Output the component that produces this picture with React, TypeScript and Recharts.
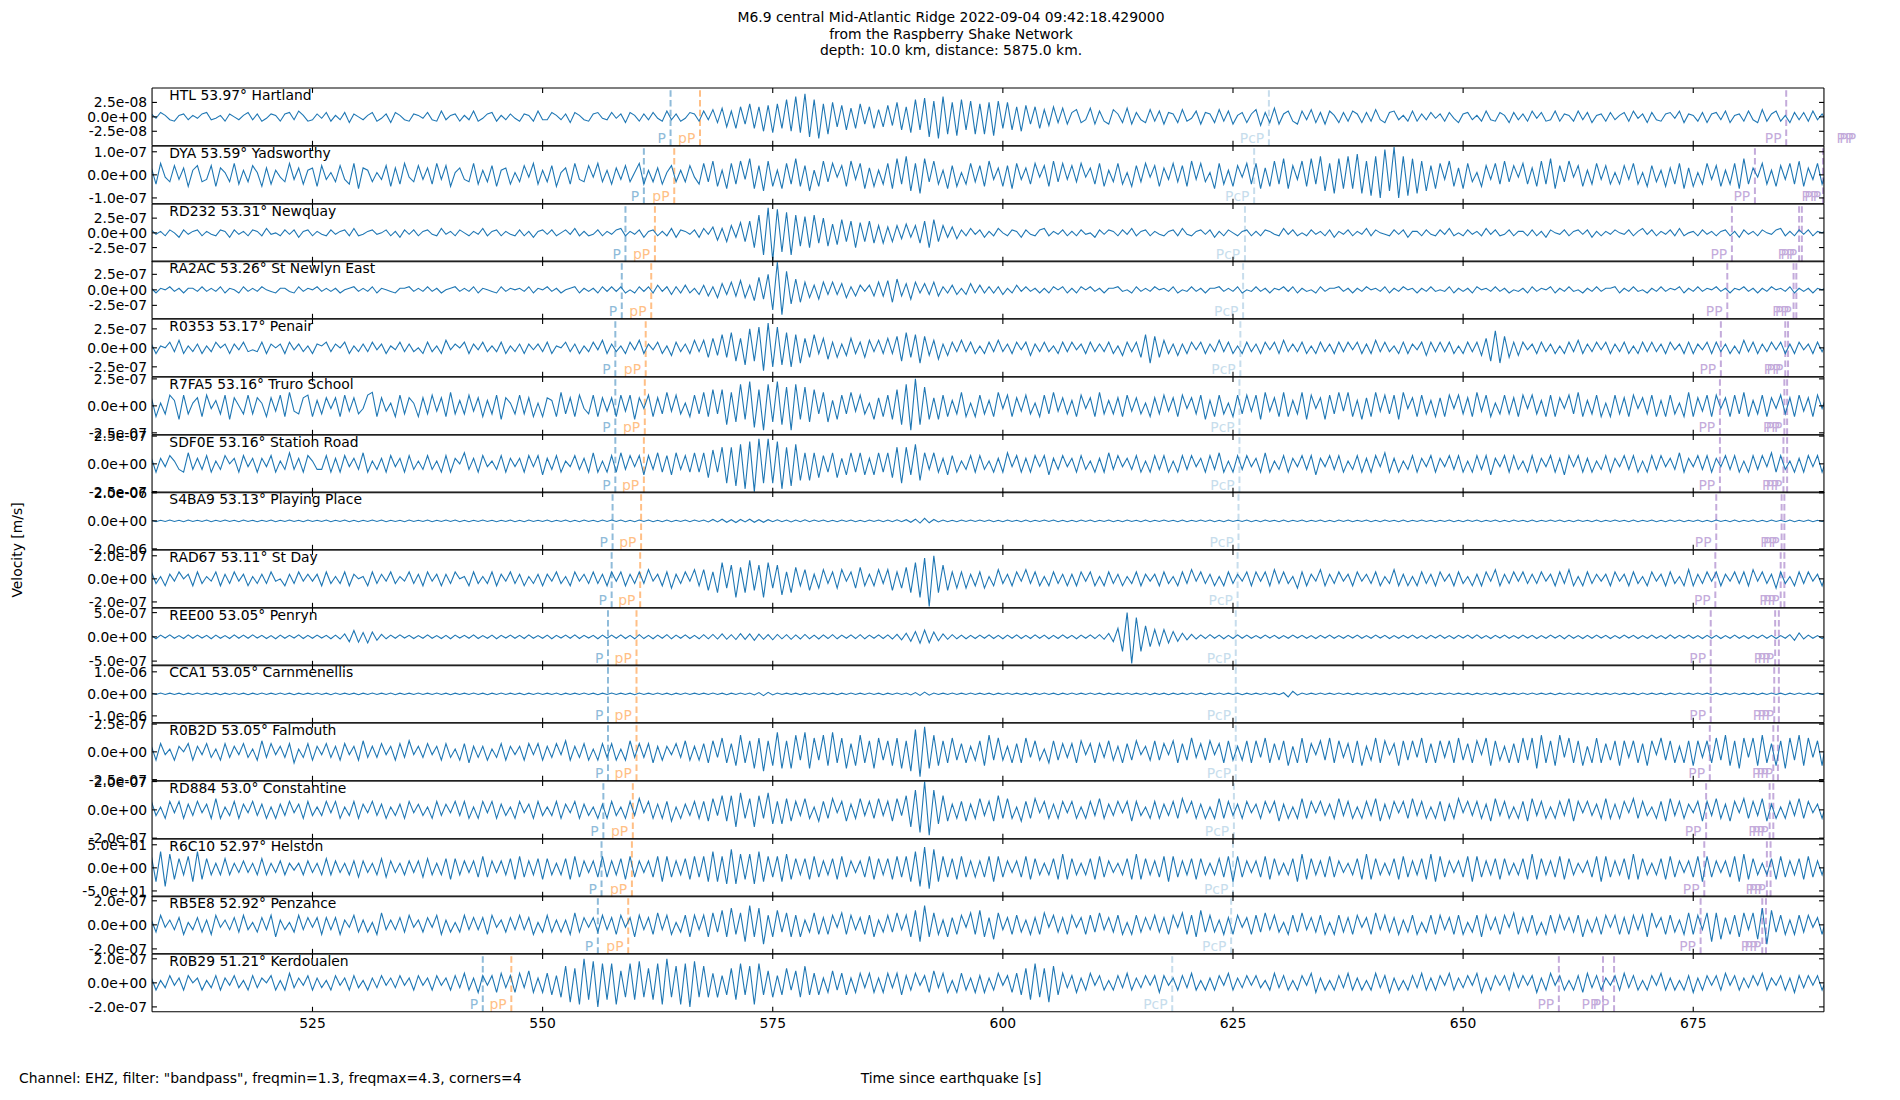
import React from "react"
import { LineChart, Line, XAxis, YAxis, ReferenceLine } from "recharts"

// sampling of the traces (s since origin) - values below are in tenths of each panel's labelled tick
const SAMPLE_START = 507.5
const SAMPLE_STEP = 0.5

const STATIONS = [
  "HTL 53.97° Hartland",
  "DYA 53.59° Yadsworthy",
  "RD232 53.31° Newquay",
  "RA2AC 53.26° St Newlyn East",
  "R0353 53.17° Penair",
  "R7FA5 53.16° Truro School",
  "SDF0E 53.16° Station Road",
  "S4BA9 53.13° Playing Place",
  "RAD67 53.11° St Day",
  "REE00 53.05° Penryn",
  "CCA1 53.05° Carnmenellis",
  "R0B2D 53.05° Falmouth",
  "RD884 53.0° Constantine",
  "R6C10 52.97° Helston",
  "RB5E8 52.92° Penzance",
  "R0B29 51.21° Kerdoualen",
]

const TICK_VALUES = [2.5e-8, 1e-7, 2.5e-7, 2.5e-7, 2.5e-7, 2.5e-7, 2.5e-7, 2e-6, 2e-7, 5e-7, 1e-6, 2.5e-7, 2e-7, 50, 2e-7, 2e-7]
const Y_LIMITS = [20, 12.5, 19.6, 18.6, 15.2, 10.7, 10.4, 10.3, 12.5, 11.9, 13.1, 10.4, 10.2, 12.5, 12, 12]

const P_TIMES = [563.9, 561.0, 559.0, 558.6, 557.9, 557.9, 557.9, 557.6, 557.5, 557.1, 557.1, 557.1, 556.6, 556.4, 556.0, 543.5]
const PP_DEPTH_TIMES = [567.1, 564.3, 562.2, 561.8, 561.2, 561.1, 561.0, 560.7, 560.6, 560.2, 560.2, 560.2, 559.8, 559.7, 559.3, 546.6]
const PCP_TIMES = [628.9, 627.3, 626.3, 626.1, 625.8, 625.7, 625.7, 625.6, 625.5, 625.3, 625.3, 625.3, 625.1, 625.0, 624.8, 618.4]
const PP_TIMES = [
  [685.1, 692.9, 693.2],
  [681.7, 689.1, 689.4],
  [679.2, 686.5, 686.8],
  [678.7, 685.9, 686.2],
  [678.0, 685.0, 685.3],
  [677.9, 684.9, 685.2],
  [677.9, 684.8, 685.2],
  [677.5, 684.6, 684.9],
  [677.4, 684.5, 684.9],
  [676.9, 683.9, 684.3],
  [676.9, 683.8, 684.3],
  [676.8, 683.7, 684.2],
  [676.4, 683.3, 683.7],
  [676.2, 683.0, 683.4],
  [675.8, 682.5, 682.9],
  [660.4, 665.2, 666.4],
]

const HTL_SAMPLES = [
  2,-1,3,1,-2,-3,1,2,-2,1,-1,2,3,-2,-1,1,-3,2,0,-2,
  1,3,-2,2,-3,-1,2,1,-3,2,3,-2,4,1,-3,-2,2,-1,3,-3,
  1,-2,3,-4,2,0,-2,1,3,-3,-1,2,-4,3,1,-2,-3,2,1,-1,
  3,-2,-3,4,-2,1,2,-3,1,-2,4,-3,-1,2,3,-3,1,-2,2,-1,
  -3,2,1,-3,4,-2,-2,3,1,-2,2,-4,3,1,-2,-3,2,3,-1,-2,
  3,-1,2,-4,3,1,-3,2,-2,3,-1,-3,4,-2,2,-3,-1,3,2,-3,
  4,-2,5,-4,6,-7,4,-8,7,-5,9,-8,7,-10,8,-11,9,-8,12,-10,
  14,-11,16,-14,12,-15,9,-12,10,-7,8,-9,6,-8,9,-5,7,-8,5,-7,
  8,-6,10,-9,7,-11,12,-9,13,-14,11,-15,14,-12,10,-13,12,-9,11,-12,
  9,-12,10,-13,11,-8,10,-9,7,-10,8,-5,7,-8,5,-6,7,-4,6,-5,
  3,5,-4,-2,6,-5,4,-3,-5,5,2,-4,6,-5,3,-2,-4,5,-3,4,
  -5,3,2,-4,5,-3,-1,4,-5,3,2,-4,5,-3,4,-5,1,3,-4,2,
  5,-6,3,-4,6,-5,2,4,-3,-5,4,-2,5,-4,3,-5,4,1,-4,3,
  -3,4,2,-4,3,-3,5,-2,-4,3,4,-2,1,-3,4,-3,2,-2,3,-1,
  2,-3,3,-1,-4,2,3,-2,1,-3,4,-2,-3,3,1,-4,3,-2,2,-3,
  4,-1,3,-3,-2,4,-3,2,1,-3,4,-2,3,-4,1,2,-3,3,-2,1,
  3,-3,4,-1,2,-4,3,-2,-3,2,3,-1,4,-4,2,1,-3,3,-4,2,
  3,-2,4,-4,1,2,-3,4,-2,-4,5,-3,2,4,-3,1,-4,3,-2,3,
  -3,4,-2,2,-3,
]

const DYA_SAMPLES = [
  3,-4,5,-1,-3,4,-2,3,-5,2,4,-3,-2,4,-5,3,1,-3,5,-4,
  2,-3,4,1,-5,3,-4,2,-1,-3,5,-2,3,-4,2,3,-5,4,-2,1,
  -3,4,-2,-4,5,-6,3,2,-3,1,-2,4,-5,3,-4,5,-1,-3,4,-2,
  3,-4,5,-2,4,-5,1,3,-2,-3,5,-4,2,-3,4,-5,2,3,-4,1,
  -3,4,-1,5,-4,2,-3,4,-5,1,3,-4,5,-2,-3,4,-1,5,-3,2,
  -4,3,-2,4,-3,1,5,-4,2,-3,3,-4,1,4,-3,2,-3,4,-1,-4,
  5,-3,6,-5,2,-6,5,-4,6,-2,7,-6,4,-7,6,-5,2,-6,5,-4,
  7,-5,4,-7,2,-5,6,-3,5,-1,4,-5,6,-2,5,-6,3,-5,2,-4,
  5,-6,7,-4,8,-7,5,-8,7,-3,6,-4,2,-6,4,-5,1,-4,5,-3,
  4,-5,6,-2,3,-5,4,-6,5,-2,3,-4,5,-1,4,-5,6,-3,5,-2,
  4,-3,5,-1,3,-4,5,-5,2,-3,5,-4,1,-5,4,-3,5,-1,4,-5,
  3,-2,5,-3,4,-5,6,-2,5,-3,1,-6,5,-4,2,-5,4,-1,5,-4,
  5,-6,3,-5,6,-4,7,-6,4,-2,6,-5,7,-4,8,-7,5,-8,7,-6,
  8,-6,9,-8,6,-9,8,-10,11,-7,12,-10,8,-9,7,-8,6,-7,4,-6,
  5,-2,6,-5,3,-6,5,-3,1,-5,4,-2,5,-4,6,-3,4,-1,5,-4,
  3,-5,6,-4,7,-6,4,-3,6,-1,4,-5,2,-4,5,-2,4,-4,1,-4,
  4,-2,5,-4,1,-5,4,-3,2,-5,3,-4,5,-6,3,-5,1,-4,5,-2,
  4,-5,2,-4,5,-6,7,-4,3,-1,5,-4,2,-5,4,-2,5,-4,6,-5,
  3,-2,5,-4,2,
]

const RD232_SAMPLES = [
  2,-1,1,-2,2,0,-3,2,-1,1,2,-2,1,-1,-2,2,1,-3,2,-1,
  1,-2,2,1,-2,3,-1,0,-2,2,-1,2,-3,1,2,-2,1,-1,-2,2,
  -1,1,2,-2,3,-2,-1,1,2,-1,0,2,-2,1,-3,2,-1,2,-2,1,
  2,-1,-2,3,-1,1,-2,2,0,-2,1,-1,3,-2,1,2,-2,1,-1,-2,
  2,-2,1,-3,1,2,-1,2,-2,0,2,-1,3,-2,1,-2,-1,2,-2,1,
  -1,2,3,-2,1,-1,2,-3,1,2,-2,1,-2,3,-3,2,1,-1,2,-3,
  3,-1,4,-5,3,-6,5,-3,7,-6,8,-10,12,-15,17,-19,16,-13,14,-15,
  12,-9,11,-10,12,-7,10,-9,6,-8,9,-6,8,-10,7,-6,8,-7,5,-7,
  4,-6,5,-4,6,-3,5,-7,8,-10,9,-6,5,-3,4,-4,2,-2,3,-1,
  2,-3,1,-2,3,0,-2,2,1,-3,2,-1,-2,2,3,-2,1,-1,2,-2,
  1,-2,2,-1,0,-3,2,-1,2,1,-2,2,-1,3,-2,1,2,-2,1,-1,
  -2,1,2,-2,3,-1,-2,1,2,-1,2,-3,1,-2,2,0,-2,1,2,-2,
  1,-2,2,1,-1,-2,3,-1,2,-2,0,-2,2,-1,1,-2,2,-3,1,-1,
  2,-2,1,-1,3,-2,2,0,-1,-2,2,-1,2,-3,1,1,-2,2,-1,-2,
  2,-1,3,-2,0,-2,2,-1,1,-2,3,-1,2,-2,-1,2,-2,1,1,-2,
  2,-2,1,-3,2,0,-1,2,-2,1,2,-1,2,-3,1,-2,1,-1,2,0,
  -1,2,-2,1,3,-1,2,-2,1,-1,2,-2,3,-2,0,1,-2,2,-1,1,
  -2,1,2,-2,1,-3,2,-1,1,-2,2,0,-1,2,3,-2,1,-2,2,-1,
  2,-2,1,0,2,
]

const RA2AC_SAMPLES = [
  1,-2,1,0,2,-1,1,-2,1,1,-1,2,-1,1,-1,2,-2,1,0,-2,
  2,-1,1,-1,2,0,-1,-2,1,1,-1,-2,2,-1,1,0,2,-1,1,-1,
  1,-2,0,1,2,-1,1,-1,2,-2,1,0,-1,-2,1,1,2,-1,1,-1,
  2,-1,1,-2,0,1,2,-1,1,-1,2,-2,1,0,-1,-2,2,-1,1,0,
  1,-1,2,-2,1,0,2,-1,1,-2,0,1,2,-2,1,-1,1,-2,2,-1,
  2,-1,2,-2,0,-2,2,-1,2,-2,3,-1,2,-3,2,-2,3,-2,1,-3,
  3,-4,2,-5,4,-3,5,-4,6,-5,3,-7,8,-6,10,-13,18,-16,12,-9,
  7,-8,5,-5,3,-6,5,-3,5,-3,4,-5,2,-4,3,-1,3,-4,5,-4,
  6,-8,7,-4,4,-6,5,-2,4,-3,5,-4,2,-2,3,-3,1,-3,4,-2,
  3,-2,2,-2,2,-3,1,-2,3,-1,2,-1,1,-2,1,-2,2,0,2,-2,
  1,-2,2,0,2,-1,1,-2,1,1,2,-1,0,-2,2,-1,1,-1,2,0,
  1,-1,2,-2,0,-1,2,-1,1,-2,1,1,2,-1,1,-1,2,-2,0,-1,
  2,-1,1,-2,1,0,2,-1,2,-2,1,-1,0,-2,2,-1,1,1,2,-1,
  1,-2,1,-1,2,0,1,-1,2,-2,1,-1,2,0,1,-2,1,-1,2,-1,
  0,-1,2,-2,1,-1,1,-2,2,0,1,-1,2,-1,1,-2,0,-1,1,-2,
  2,-1,1,0,2,-2,1,-1,2,-1,0,-2,1,-1,2,-1,1,1,2,-2,
  1,-1,2,-1,0,-2,1,-1,2,-1,1,0,2,-2,1,-1,2,-1,1,0,
  2,-1,1,-2,1,0,2,-1,1,-2,1,-1,2,0,1,-1,2,-2,1,-1,
  1,-2,1,0,2,
]

const R0353_SAMPLES = [
  2,-3,1,0,3,-2,4,-3,1,-2,2,-3,1,-2,3,0,2,-3,2,-1,
  3,-2,-1,-2,3,-3,2,0,2,-3,3,-1,2,-2,1,-3,2,1,3,-2,
  2,0,3,-3,1,-2,2,-2,3,-1,2,-3,1,-1,3,-2,2,-2,0,-3,
  3,-2,1,-3,4,-1,2,0,3,-3,2,-1,3,-2,1,-2,3,-3,1,-2,
  2,-3,2,-1,2,-2,3,-3,1,0,3,-2,2,-3,1,-2,3,-1,4,-3,
  2,-2,1,-3,3,-1,4,-3,2,-1,3,-3,1,-4,3,-2,2,-3,4,-2,
  4,-5,5,-4,7,-5,8,-7,5,-9,10,-7,11,-12,13,-10,11,-9,8,-10,
  7,-8,5,-5,7,-3,5,-6,3,-5,2,-4,5,-3,3,-5,4,-2,4,-3,
  5,-3,6,-7,8,-5,7,-8,6,-4,4,-6,2,-4,3,-2,4,-2,3,-3,
  1,-3,3,-2,4,-2,2,-3,3,-1,3,-4,2,-2,3,-2,1,-3,3,-2,
  3,-1,2,-3,3,-2,2,-2,3,-3,1,-4,3,-2,3,-5,7,-8,6,-5,
  4,-3,2,-4,2,-3,3,-1,3,-3,2,-2,4,-2,3,-3,1,-3,3,-2,
  2,-3,3,-1,3,-3,4,-2,2,-2,3,-3,1,-3,3,-2,2,-3,3,-2,
  3,-1,3,-3,2,-3,4,-2,3,-2,1,-3,3,-3,2,-1,3,-4,3,-2,
  3,-2,3,-3,1,-3,3,-2,3,-4,5,-7,9,-8,6,-5,3,-4,3,-1,
  2,-3,3,-2,2,-3,1,-3,3,-2,4,-3,2,-2,3,-1,3,-3,2,-2,
  3,-3,1,-3,3,-2,3,-2,2,-3,3,-1,2,-3,3,-3,2,-1,3,-3,
  3,-2,2,-3,1,-3,4,-2,3,-3,2,-2,3,-1,3,-3,2,-3,3,-1,
  2,-3,3,-2,3,
]

const R7FA5_SAMPLES = [
  3,-4,1,-3,4,2,-5,4,-3,1,3,-4,4,-1,2,-3,4,-5,3,0,
  -3,4,-3,3,1,-4,3,-2,4,-4,5,-2,-3,3,4,-4,2,-3,3,-1,
  3,-4,4,-2,3,-3,-1,4,5,-4,3,-2,1,-4,4,-3,3,1,-4,3,
  -3,4,-2,3,-4,5,-3,2,-3,4,-2,3,-4,2,-3,4,-5,3,1,-3,
  4,-3,3,-4,1,-4,3,2,-4,5,-3,3,-4,4,-1,-3,4,-4,3,-2,
  3,-4,4,-2,4,-5,3,-1,4,-4,3,-3,5,-2,4,-3,1,-4,4,-3,
  5,-4,6,-3,6,-7,5,-6,8,-5,9,-8,6,-9,8,-6,9,-7,7,-9,
  8,-5,7,-6,6,-3,5,-6,2,-5,4,-3,5,-2,4,-3,1,-5,3,-4,
  4,-5,6,-7,8,-9,10,-7,7,-5,3,-5,4,-4,2,-3,5,-4,1,-4,
  4,-3,2,-4,5,-1,4,-4,3,-2,4,-3,1,-4,4,-3,5,-2,3,-3,
  2,-4,4,-1,3,-4,5,-3,2,-3,3,-4,4,-2,3,-3,1,-4,3,-3,
  4,-2,3,-4,4,-1,3,-3,4,-5,2,-4,4,-3,1,-4,4,-3,4,-2,
  4,-5,5,-2,3,-4,5,-4,2,-3,5,-5,4,-1,3,-5,4,-3,5,-2,
  5,-4,2,-5,3,-4,5,-2,4,-3,4,-5,5,-1,3,-4,4,-3,2,-4,
  3,-4,4,-1,4,-3,3,-4,5,-2,4,-4,1,-3,4,-3,3,-4,4,-1,
  4,-3,2,-4,4,-4,3,-1,4,-3,5,-4,2,-3,4,-4,1,-4,4,-3,
  3,-4,4,-1,3,-3,4,-4,2,-4,4,-3,1,-4,5,-4,3,-2,4,-4,
  4,-1,3,-4,4,-3,5,-4,2,-3,4,-4,3,-1,4,-3,3,-4,4,-2,
  3,-4,4,-1,4,
]

const SDF0E_SAMPLES = [
  2,-3,2,-1,3,1,-2,-3,4,-2,2,-2,3,-3,1,-2,3,0,2,-3,
  3,-1,2,-3,2,-1,3,-3,1,-2,4,-2,2,-3,3,1,-2,-2,3,-3,
  2,-3,3,-1,2,-2,4,-3,1,-2,2,-3,3,-1,2,-3,3,-2,1,-2,
  3,-2,1,-3,3,-3,2,0,4,-2,2,-3,3,-1,1,-2,3,-3,2,-1,
  2,-3,3,-1,3,-4,2,-2,3,-3,1,-1,3,-2,2,-3,4,-3,1,-3,
  3,-3,4,-2,3,-1,3,-4,3,-2,4,-3,3,-4,4,-2,3,-3,4,-3,
  4,-5,5,-3,6,-7,6,-8,7,-9,8,-10,9,-7,9,-7,8,-9,6,-8,
  7,-6,4,-6,4,-5,3,-3,4,-5,2,-4,4,-3,4,-4,2,-4,4,-3,
  4,-5,6,-7,6,-4,7,-6,4,-2,4,-3,2,-4,3,-3,1,-2,3,-3,
  3,-2,1,-3,2,-3,4,-1,3,-3,2,-3,3,-1,3,-4,2,-2,3,-1,
  2,-3,3,-2,1,-3,2,-3,4,-2,3,-1,2,-2,3,-3,1,-3,3,-2,
  3,-3,1,-3,3,-2,3,-1,2,-3,3,-2,4,-3,1,-3,3,-2,3,-1,
  2,-3,4,-3,1,-2,3,-3,2,-1,3,-2,3,-4,2,-1,3,-2,3,-3,
  1,-2,3,-3,2,-3,3,-1,4,-3,2,-3,1,-2,3,-3,2,-1,3,-3,
  2,-1,3,-2,3,-3,1,-3,3,-2,3,-4,2,-1,3,-3,3,-2,1,-3,
  3,-3,2,-1,3,-3,2,-4,3,-1,3,-3,2,-3,1,-2,3,-3,2,-1,
  3,-2,3,-3,1,-3,3,-2,3,-1,2,-2,4,-3,2,-1,3,-2,3,-3,
  2,-1,3,-2,3,-3,1,-3,3,-2,3,-1,4,-3,3,-2,1,-3,2,-3,
  3,-1,3,-3,2,
]

const S4BA9_SAMPLES = [
  0.2,-0.3,0.2,-0.2,0.3,-0.2,0.2,-0.3,0.3,-0.2,0.2,-0.2,0.3,-0.3,0.2,-0.2,0.3,-0.2,0.2,-0.3,
  0.3,-0.2,0.2,-0.3,0.2,-0.2,0.3,-0.3,0.2,-0.2,0.3,-0.2,0.2,-0.3,0.3,-0.2,0.2,-0.2,0.3,-0.3,
  0.2,-0.2,0.3,-0.3,0.2,-0.3,0.2,-0.2,0.3,-0.2,0.3,-0.3,0.2,-0.2,0.2,-0.3,0.3,-0.2,0.2,-0.2,
  0.3,-0.3,0.2,-0.2,0.3,-0.2,0.3,-0.3,0.2,-0.3,0.2,-0.2,0.3,-0.2,0.2,-0.3,0.2,-0.2,0.3,-0.3,
  0.2,-0.3,0.3,-0.2,0.2,-0.2,0.3,-0.3,0.2,-0.2,0.3,-0.3,0.2,-0.3,0.3,-0.2,0.2,-0.3,0.3,-0.2,
  0.3,-0.2,0.3,-0.3,0.2,-0.3,0.3,-0.2,0.3,-0.3,0.2,-0.3,0.3,-0.3,0.2,-0.2,0.3,-0.3,0.3,-0.2,
  0.3,-0.4,0.5,-0.4,0.6,-0.5,0.4,-0.6,0.5,-0.4,0.6,-0.5,0.4,-0.5,0.4,-0.3,0.4,-0.3,0.3,-0.4,
  0.3,-0.3,0.4,-0.3,0.3,-0.2,0.3,-0.3,0.2,-0.3,0.3,-0.2,0.3,-0.3,0.2,-0.3,0.3,-0.2,0.3,-0.3,
  0.3,-0.3,0.4,-0.3,0.4,-0.5,0.6,-0.8,0.9,-0.7,0.5,-0.4,0.3,-0.3,0.2,-0.3,0.3,-0.2,0.3,-0.2,
  0.3,-0.2,0.3,-0.3,0.2,-0.3,0.3,-0.2,0.2,-0.3,0.3,-0.3,0.2,-0.2,0.3,-0.2,0.3,-0.3,0.2,-0.3,
  0.2,-0.3,0.3,-0.2,0.3,-0.3,0.2,-0.2,0.3,-0.3,0.2,-0.3,0.3,-0.2,0.2,-0.3,0.3,-0.3,0.2,-0.2,
  0.3,-0.2,0.2,-0.3,0.3,-0.3,0.2,-0.2,0.3,-0.2,0.3,-0.3,0.2,-0.3,0.3,-0.2,0.2,-0.2,0.3,-0.3,
  0.2,-0.3,0.3,-0.2,0.2,-0.3,0.3,-0.3,0.2,-0.2,0.3,-0.3,0.2,-0.2,0.3,-0.3,0.2,-0.3,0.3,-0.2,
  0.3,-0.3,0.2,-0.2,0.3,-0.3,0.2,-0.3,0.3,-0.2,0.2,-0.3,0.3,-0.3,0.2,-0.2,0.3,-0.2,0.2,-0.3,
  0.2,-0.2,0.3,-0.3,0.2,-0.3,0.3,-0.2,0.3,-0.3,0.2,-0.2,0.3,-0.3,0.2,-0.3,0.3,-0.2,0.2,-0.3,
  0.3,-0.3,0.2,-0.2,0.3,-0.2,0.3,-0.3,0.2,-0.3,0.3,-0.2,0.2,-0.3,0.3,-0.3,0.2,-0.2,0.3,-0.2,
  0.2,-0.3,0.3,-0.3,0.2,-0.2,0.3,-0.3,0.2,-0.3,0.3,-0.2,0.3,-0.3,0.2,-0.2,0.3,-0.3,0.2,-0.3,
  0.3,-0.2,0.2,-0.3,0.3,-0.3,0.2,-0.2,0.3,-0.3,0.2,-0.3,0.3,-0.2,0.2,-0.3,0.3,-0.3,0.2,-0.2,
  0.3,-0.3,0.2,-0.2,0.3,
]

const RAD67_SAMPLES = [
  3,-2,1,-3,2,-1,3,0,2,-3,3,-2,1,-1,3,-3,2,-2,3,-1,
  2,-3,1,-2,2,-2,3,-1,0,-3,2,-2,3,-1,2,-1,2,-3,3,-2,
  1,-2,3,-3,2,0,1,-3,3,-2,2,-1,3,-2,1,-1,3,-2,2,-3,
  3,-1,2,-3,2,-2,3,0,1,-3,3,-2,1,-2,3,-3,2,-1,3,-2,
  2,-3,1,-2,2,-3,2,-1,3,-2,1,-3,3,-1,2,-2,3,-2,2,-3,
  3,-1,3,-3,2,-2,3,-2,4,-1,2,-3,3,-4,2,-2,3,-1,4,-3,
  4,-5,3,-6,7,-4,6,-8,5,-6,8,-5,6,-8,7,-4,6,-7,3,-6,
  5,-3,4,-5,2,-4,4,-2,3,-4,4,-1,3,-4,5,-3,2,-3,4,-2,
  4,-5,3,-4,5,-6,7,-8,9,-12,10,-6,6,-5,3,-4,3,-4,2,-3,
  3,-4,1,-3,4,-2,2,-3,3,-1,4,-2,3,-3,1,-3,3,-2,2,-3,
  2,-3,3,-1,3,-3,1,-3,3,-2,2,-3,1,-2,3,-3,2,-1,2,-3,
  3,-2,1,-3,3,-2,4,-1,3,-2,2,-3,1,-3,3,-2,2,-1,3,-3,
  3,-1,3,-3,4,-2,3,-2,1,-4,3,-3,2,-1,4,-3,2,-2,3,-1,
  2,-3,3,-1,2,-2,3,-3,1,-2,4,-3,2,-3,1,-3,3,-2,2,-3,
  3,-1,2,-3,3,-2,1,-3,2,-3,3,-1,4,-3,2,-2,3,-1,3,-2,
  2,-2,3,-1,2,-3,3,-2,4,-3,1,-3,3,-2,2,-1,2,-3,3,-1,
  2,-3,3,-2,1,-3,3,-1,2,-3,3,-2,1,-3,4,-3,2,-2,3,-1,
  3,-3,2,-1,3,-2,3,-3,4,-1,3,-2,2,-4,3,-2,1,-3,3,-2,
  3,-1,2,-3,3,
]

const REE00_SAMPLES = [
  0.6,-0.8,0.7,-0.5,0.8,-0.6,0.5,-0.7,0.8,-0.6,0.7,-0.5,0.6,-0.8,0.7,-0.6,0.5,-0.7,0.8,-0.6,
  0.7,-0.6,0.8,-0.5,0.6,-0.7,0.5,-0.8,0.7,-0.6,0.6,-0.5,0.8,-0.7,0.6,-0.6,0.7,-0.5,0.6,-0.8,
  0.7,-0.9,1.2,-2,2.6,-2.2,1.8,-2.5,2,-1.4,1,-0.8,0.7,-0.6,0.8,-0.5,0.6,-0.7,0.5,-0.6,
  0.8,-0.6,0.5,-0.7,0.6,-0.8,0.7,-0.5,0.6,-0.6,0.8,-0.7,0.5,-0.6,0.7,-0.8,0.6,-0.5,0.7,-0.6,
  0.6,-0.7,0.8,-0.6,0.5,-0.6,0.7,-0.8,0.6,-0.5,0.7,-0.6,0.8,-0.7,0.6,-0.5,0.6,-0.8,0.7,-0.6,
  0.7,-0.6,0.8,-0.7,0.6,-0.8,0.9,-0.7,0.6,-0.8,0.7,-0.6,0.9,-0.8,0.7,-0.6,0.8,-0.7,0.6,-0.8,
  0.9,-0.8,1,-0.9,1.2,-1,0.9,-1.1,1.3,-1,1.2,-1.4,1.1,-1,0.9,-1.2,1,-0.8,0.9,-1,
  0.8,-0.9,1,-0.8,0.7,-0.9,0.8,-0.7,0.9,-0.8,0.7,-0.6,0.8,-0.7,0.9,-0.8,0.7,-0.6,0.8,-0.7,
  0.8,-0.9,1,-1.2,1.5,-1.8,2.2,-2.6,2.8,-2.4,2,-1.6,1.2,-1,0.9,-0.8,0.7,-0.8,0.6,-0.7,
  0.7,-0.6,0.8,-0.7,0.6,-0.8,0.7,-0.6,0.8,-0.7,0.6,-0.7,0.8,-0.6,0.7,-0.8,0.6,-0.7,0.8,-0.6,
  0.6,-0.8,0.7,-0.6,0.8,-0.7,0.9,-1,1.4,-2,3.5,-6,10,-11,8,-6,4.5,-4,3,-3.5,
  3,-2.5,2.2,-1.8,1.5,-1.2,1,-0.9,0.8,-0.7,0.9,-0.6,0.7,-0.8,0.6,-0.7,0.8,-0.6,0.7,-0.6,
  0.5,-0.6,0.7,-0.5,0.6,-0.7,0.5,-0.6,0.7,-0.5,0.6,-0.6,0.5,-0.7,0.6,-0.5,0.7,-0.6,0.5,-0.6,
  0.6,-0.5,0.7,-0.6,0.5,-0.6,0.7,-0.5,0.6,-0.7,0.5,-0.6,0.6,-0.5,0.7,-0.6,0.5,-0.7,0.6,-0.5,
  0.7,-0.6,0.5,-0.7,0.6,-0.5,0.7,-0.6,0.8,-0.6,0.5,-0.7,0.6,-0.5,0.7,-0.6,0.5,-0.6,0.7,-0.5,
  0.6,-0.7,0.5,-0.6,0.7,-0.5,0.6,-0.8,0.7,-0.6,0.5,-0.7,0.6,-0.6,0.7,-0.5,0.6,-0.7,0.5,-0.6,
  0.7,-0.5,0.6,-0.7,0.5,-0.6,0.7,-0.6,0.5,-0.7,0.8,-0.6,0.6,-0.5,0.7,-0.6,0.5,-0.7,0.6,-0.6,
  0.6,-0.7,0.5,-0.6,0.7,-0.6,0.5,-0.7,0.6,-0.5,0.7,-0.6,0.6,-0.7,0.5,-0.6,0.9,-1.4,1.6,-0.9,
  0.7,-0.6,0.5,-0.7,0.6,
]

const CCA1_SAMPLES = [
  0.3,-0.3,0.4,-0.3,0.3,-0.3,0.3,-0.4,0.3,-0.3,0.4,-0.3,0.3,-0.3,0.3,-0.4,0.3,-0.3,0.4,-0.3,
  0.3,-0.4,0.3,-0.3,0.4,-0.3,0.3,-0.3,0.4,-0.3,0.3,-0.4,0.3,-0.3,0.3,-0.3,0.4,-0.3,0.3,-0.4,
  0.4,-0.3,0.3,-0.3,0.3,-0.4,0.3,-0.3,0.4,-0.3,0.3,-0.3,0.4,-0.4,0.3,-0.3,0.3,-0.3,0.4,-0.3,
  0.3,-0.3,0.4,-0.3,0.3,-0.4,0.3,-0.3,0.3,-0.3,0.4,-0.3,0.3,-0.4,0.3,-0.3,0.4,-0.3,0.3,-0.3,
  0.3,-0.4,0.3,-0.3,0.4,-0.3,0.3,-0.3,0.4,-0.4,0.3,-0.3,0.3,-0.3,0.4,-0.3,0.3,-0.4,0.3,-0.3,
  0.4,-0.3,0.3,-0.3,0.3,-0.4,0.4,-0.3,0.3,-0.3,0.4,-0.3,0.3,-0.4,0.3,-0.3,0.4,-0.3,0.3,-0.3,
  0.3,-0.3,0.4,-0.3,0.3,-0.4,0.3,-0.3,0.4,-0.3,0.4,-0.5,0.6,-0.8,0.7,-0.5,0.4,-0.3,0.3,-0.3,
  0.3,-0.4,0.3,-0.3,0.4,-0.3,0.3,-0.3,0.3,-0.4,0.3,-0.3,0.4,-0.3,0.3,-0.3,0.4,-0.3,0.3,-0.4,
  0.3,-0.3,0.4,-0.3,0.4,-0.5,0.6,-0.7,0.8,-0.6,0.4,-0.3,0.3,-0.3,0.4,-0.3,0.3,-0.3,0.4,-0.3,
  0.3,-0.3,0.3,-0.4,0.3,-0.3,0.4,-0.3,0.3,-0.3,0.3,-0.4,0.3,-0.3,0.4,-0.3,0.3,-0.4,0.3,-0.3,
  0.4,-0.3,0.3,-0.3,0.4,-0.3,0.3,-0.4,0.3,-0.3,0.3,-0.3,0.4,-0.3,0.3,-0.3,0.4,-0.4,0.3,-0.3,
  0.3,-0.4,0.3,-0.3,0.3,-0.3,0.4,-0.3,0.3,-0.4,0.3,-0.3,0.4,-0.3,0.3,-0.3,0.3,-0.4,0.3,-0.3,
  0.3,-0.3,0.4,-0.3,0.3,-0.4,0.5,-1.4,1.2,-0.6,0.4,-0.3,0.3,-0.3,0.4,-0.3,0.3,-0.3,0.4,-0.3,
  0.3,-0.4,0.3,-0.3,0.4,-0.3,0.3,-0.3,0.3,-0.4,0.4,-0.3,0.3,-0.3,0.3,-0.4,0.3,-0.3,0.4,-0.3,
  0.3,-0.3,0.4,-0.3,0.3,-0.3,0.3,-0.4,0.3,-0.3,0.4,-0.3,0.3,-0.4,0.3,-0.3,0.3,-0.3,0.4,-0.3,
  0.4,-0.3,0.3,-0.3,0.3,-0.4,0.3,-0.3,0.4,-0.3,0.3,-0.3,0.4,-0.4,0.3,-0.3,0.3,-0.3,0.4,-0.3,
  0.3,-0.3,0.3,-0.4,0.4,-0.3,0.3,-0.3,0.3,-0.4,0.3,-0.3,0.4,-0.3,0.3,-0.3,0.4,-0.3,0.3,-0.4,
  0.3,-0.4,0.3,-0.3,0.4,-0.3,0.3,-0.3,0.3,-0.4,0.3,-0.3,0.4,-0.3,0.3,-0.4,0.3,-0.3,0.4,-0.3,
  0.3,-0.3,0.4,-0.3,0.3,
]

const R0B2D_SAMPLES = [
  2,-3,3,-1,1,-3,2,0,3,-3,2,-1,3,-2,1,-3,3,-2,2,-1,
  3,-2,1,-3,4,-2,3,-1,2,-2,3,-4,1,-2,3,-3,2,-1,3,-2,
  2,-3,3,-1,2,-3,4,-2,2,-2,3,-1,2,-3,3,-2,4,-1,2,-2,
  3,-1,2,-3,3,-2,1,-3,3,-4,2,-2,2,-3,1,-2,3,-3,2,-1,
  2,-3,3,-1,3,-3,2,-2,3,-1,4,-3,2,-2,3,-3,1,-3,3,-2,
  3,-3,1,-3,4,-2,3,-2,3,-4,2,-3,2,-1,3,-2,4,-3,2,-3,
  3,-4,4,-2,5,-4,3,-5,6,-4,4,-6,5,-7,4,-5,7,-6,4,-6,
  6,-3,7,-6,5,-3,6,-5,7,-4,5,-6,3,-5,6,-4,4,-6,5,-3,
  4,-5,5,-6,4,-7,8,-9,9,-6,6,-5,4,-4,5,-3,3,-4,2,-3,
  4,-5,6,-3,5,-3,2,-4,3,-4,5,-2,4,-3,1,-4,4,-3,3,-2,
  3,-4,4,-1,3,-4,3,-2,4,-3,2,-4,3,-3,4,-1,2,-3,4,-3,
  3,-1,4,-4,3,-3,5,-2,3,-3,4,-1,3,-4,4,-3,2,-3,4,-4,
  4,-2,5,-4,3,-3,4,-5,2,-4,5,-4,3,-1,4,-3,5,-4,4,-2,
  3,-4,4,-5,2,-3,5,-4,4,-1,3,-5,4,-3,4,-2,5,-4,3,-4,
  4,-2,4,-4,5,-3,3,-4,4,-1,5,-5,4,-3,2,-4,3,-4,5,-3,
  5,-6,6,-4,4,-5,6,-2,5,-4,4,-5,2,-4,5,-4,3,-3,4,-5,
  4,-2,4,-4,3,-5,4,-1,5,-3,4,-4,2,-4,4,-5,4,-2,4,-4,
  5,-3,6,-5,4,-6,5,-2,5,-5,6,-4,3,-5,4,-6,5,-3,6,-5,
  5,-2,4,-5,6,
]

const RD884_SAMPLES = [
  3,-2,1,-3,3,-1,3,-3,2,-2,3,-1,2,-3,4,-3,1,-2,3,-3,
  2,-1,3,-2,2,-3,1,-3,2,-2,3,-1,2,-3,3,-2,1,-2,3,-1,
  3,-3,1,-2,3,-3,2,-1,3,-2,2,-3,1,-2,2,-3,3,-1,2,-2,
  1,-3,3,-2,2,-1,3,-2,3,-3,1,-3,3,-1,3,-3,2,-2,1,-3,
  3,-1,2,-3,3,-2,1,-2,3,-3,2,-1,3,-3,2,-2,1,-3,2,-3,
  3,-2,1,-3,3,-2,4,-1,3,-3,2,-3,3,-4,1,-3,2,-2,3,-3,
  3,-4,4,-2,5,-4,5,-6,6,-3,4,-6,5,-3,6,-5,3,-5,4,-4,
  3,-2,4,-3,1,-4,3,-3,4,-1,3,-4,2,-3,4,-2,3,-3,4,-2,
  3,-4,4,-2,5,-6,7,-8,10,-9,7,-5,5,-4,2,-3,3,-4,2,-3,
  4,-2,3,-4,5,-3,4,-3,1,-4,3,-3,4,-1,3,-3,2,-3,3,-1,
  3,-3,1,-3,3,-2,4,-3,2,-2,3,-1,3,-4,3,-2,1,-3,3,-3,
  2,-2,3,-3,4,-1,3,-3,2,-3,1,-3,4,-3,3,-2,2,-3,3,-1,
  2,-3,3,-1,3,-4,2,-3,1,-3,4,-3,3,-1,3,-2,2,-3,4,-2,
  3,-3,1,-3,3,-2,4,-4,2,-3,3,-1,3,-3,4,-2,3,-3,1,-3,
  3,-4,2,-3,4,-1,3,-2,3,-3,2,-4,4,-2,3,-3,1,-3,3,-4,
  4,-2,3,-3,1,-3,3,-2,4,-4,3,-1,3,-2,2,-3,4,-3,2,-3,
  3,-1,4,-3,3,-2,1,-3,3,-4,4,-2,3,-3,2,-1,3,-4,3,-2,
  4,-3,2,-4,3,-1,4,-3,3,-2,4,-4,2,-3,1,-3,3,-2,4,-3,
  3,-1,2,-3,3,
]

const R6C10_SAMPLES = [
  5,-6,7,-8,6,-5,4,-3,5,-6,7,-5,4,-3,2,-3,4,-3,2,-2,
  3,-2,2,-3,4,-3,2,-2,3,-3,2,-1,2,-3,3,-2,2,-3,4,-3,
  3,-2,2,-3,3,-4,3,-2,2,-3,4,-4,3,-2,2,-3,3,-2,3,-4,
  4,-3,2,-3,4,-5,4,-3,3,-2,3,-4,5,-4,3,-2,3,-3,4,-5,
  5,-4,3,-3,4,-5,4,-3,2,-3,4,-5,5,-4,3,-2,3,-4,5,-4,
  3,-3,4,-5,5,-4,3,-2,3,-4,5,-6,5,-4,3,-3,4,-5,5,-4,
  5,-6,7,-6,5,-7,8,-7,6,-5,6,-7,7,-6,5,-4,5,-6,6,-5,
  4,-3,4,-5,5,-4,3,-3,4,-5,5,-4,3,-2,3,-4,5,-5,4,-3,
  4,-5,5,-4,5,-6,7,-8,9,-9,8,-6,5,-4,4,-5,5,-4,3,-4,
  3,-4,5,-6,5,-4,3,-2,3,-4,5,-5,4,-3,2,-3,4,-5,6,-5,
  4,-3,2,-3,4,-5,5,-4,3,-2,2,-3,4,-5,6,-5,4,-3,3,-4,
  5,-6,5,-4,3,-3,4,-5,4,-3,2,-3,4,-4,5,-6,5,-4,3,-2,
  3,-4,5,-5,4,-3,2,-3,4,-6,6,-5,4,-3,3,-4,5,-4,3,-2,
  2,-3,4,-5,6,-5,4,-3,2,-3,4,-5,5,-4,3,-3,4,-5,6,-6,
  5,-4,3,-2,3,-4,5,-6,5,-4,3,-3,4,-5,4,-3,2,-3,4,-5,
  6,-5,4,-3,3,-4,5,-5,4,-3,2,-2,3,-4,5,-6,5,-4,3,-3,
  4,-5,6,-5,4,-3,2,-3,4,-5,5,-4,3,-2,3,-4,5,-6,5,-4,
  3,-2,3,-4,5,-6,6,-5,4,-3,2,-3,4,-5,5,-4,3,-3,4,-5,
  5,-4,3,-3,4,
]

const RB5E8_SAMPLES = [
  2,-3,4,-1,2,-2,3,-4,1,-2,3,-3,2,-4,4,-1,2,-2,3,-3,
  4,-2,1,-3,3,-2,4,-5,2,-2,1,-3,4,-2,3,-1,3,-4,3,-2,
  3,-4,2,-1,4,-3,2,-3,1,-4,5,-2,2,-2,3,-3,4,-1,2,-3,
  3,-1,4,-4,2,-3,1,-3,4,-2,3,-2,3,-4,4,-1,2,-3,3,-2,
  4,-2,3,-4,1,-3,4,-3,2,-3,2,-4,5,-3,3,-1,3,-3,4,-2,
  3,-4,4,-1,3,-5,4,-2,3,-4,5,-2,4,-4,1,-3,4,-5,4,-2,
  4,-5,5,-3,6,-5,7,-4,5,-7,8,-5,7,-8,4,-5,6,-3,5,-5,
  4,-5,2,-3,5,-4,3,-4,4,-1,5,-4,4,-2,3,-4,4,-5,2,-3,
  4,-3,5,-2,4,-5,6,-7,8,-5,5,-4,2,-5,3,-4,4,-1,5,-4,
  6,-5,3,-6,5,-2,3,-4,4,-3,2,-4,3,-4,5,-1,4,-3,3,-4,
  4,-1,3,-4,4,-3,5,-2,3,-3,4,-4,1,-4,4,-3,3,-2,4,-3,
  3,-4,4,-1,5,-4,4,-5,6,-3,4,-3,2,-4,3,-4,4,-1,3,-4,
  4,-3,5,-2,4,-3,1,-4,4,-3,5,-2,3,-3,4,-4,1,-4,4,-3,
  3,-4,4,-1,3,-4,5,-2,4,-3,3,-4,2,-3,4,-4,1,-3,4,-4,
  4,-2,3,-4,4,-4,1,-3,4,-5,4,-2,3,-4,4,-1,5,-4,3,-3,
  4,-4,1,-4,4,-3,4,-2,3,-3,4,-5,2,-3,3,-4,4,-1,4,-4,
  3,-4,4,-2,4,-5,5,-1,3,-4,4,-3,2,-4,5,-4,4,-2,5,-7,
  5,-6,3,-4,4,-5,5,-2,5,-6,7,-8,6,-3,4,-4,2,-4,4,-3,
  4,-1,3,-4,4,
]

const R0B29_SAMPLES = [
  2,-3,1,-2,3,-1,2,-3,3,0,2,-3,1,-2,3,-3,2,-1,3,-2,
  1,-3,3,-2,2,0,3,-3,1,-3,4,-2,2,-1,3,-3,2,-2,1,-3,
  3,-1,2,-3,3,-2,1,-3,2,-2,3,-1,2,-2,3,-1,2,-3,3,-1,
  2,-3,3,-1,2,-3,3,-2,4,-3,2,-4,3,-1,3,-4,4,-2,3,-4,
  4,-2,5,-4,2,-4,4,-5,3,-6,7,-8,6,-9,10,-7,9,-10,8,-7,
  8,-9,5,-6,8,-7,9,-6,6,-7,8,-9,10,-6,7,-9,8,-10,9,-6,
  7,-6,4,-6,3,-5,6,-7,8,-5,7,-9,8,-5,5,-6,3,-5,6,-3,
  5,-6,7,-5,4,-5,2,-4,5,-3,4,-5,2,-4,4,-2,4,-4,2,-4,
  4,-2,4,-5,3,-3,4,-1,3,-4,5,-2,4,-4,1,-4,4,-3,2,-4,
  3,-4,2,-3,4,-1,3,-4,4,-5,6,-7,8,-6,6,-8,7,-5,4,-2,
  3,-4,2,-3,4,-1,3,-3,1,-3,3,-2,4,-3,2,-2,3,-1,3,-4,
  3,-1,2,-3,3,-2,4,-3,1,-3,2,-3,3,-1,4,-3,2,-2,3,-1,
  3,-2,1,-3,4,-2,3,-3,1,-3,3,-1,4,-4,2,-3,1,-3,3,-2,
  4,-3,2,-3,1,-3,4,-2,3,-4,2,-3,1,-3,3,-2,4,-3,2,-3,
  3,-1,4,-3,2,-2,3,-1,4,-4,2,-3,3,-1,3,-3,4,-2,3,-1,
  3,-4,2,-3,4,-1,3,-3,1,-3,3,-4,4,-2,3,-3,2,-1,3,-3,
  4,-2,3,-3,1,-3,3,-1,4,-3,2,-3,1,-3,3,-4,2,-3,3,-1,
  3,-3,4,-1,3,-3,2,-2,3,-1,4,-3,2,-1,3,-3,2,-4,3,-2,
  3,-1,3,-3,2,
]

const TRACES = [
  HTL_SAMPLES, DYA_SAMPLES, RD232_SAMPLES, RA2AC_SAMPLES, R0353_SAMPLES, R7FA5_SAMPLES,
  SDF0E_SAMPLES, S4BA9_SAMPLES, RAD67_SAMPLES, REE00_SAMPLES, CCA1_SAMPLES, R0B2D_SAMPLES,
  RD884_SAMPLES, R6C10_SAMPLES, RB5E8_SAMPLES, R0B29_SAMPLES,
]

const X_DOMAIN = [507.57, 689.2]
const X_TICKS = [525, 550, 575, 600, 625, 650, 675]
const Y_TICKS = [-10, 0, 10]

const PHASE_COLORS: Record<string, string> = {
  P: "#8fbbd9",
  pP: "#ffbf86",
  PcP: "#c7ddec",
  PP: "#c4abdb",
}

// layout (page pixels)
const FONT = "DejaVu Sans"
const FONT_SIZE = 13.9
const PLOT_LEFT = 152
const PLOT_RIGHT = 1824
const PLOT_TOP = 88.3
const PANEL_H = 57.71
const PAD = 30
const TICK_LEN = 4.9
const AXIS = { stroke: "#000", strokeWidth: 1.1 }

const fmtExp = (v: number) => {
  const [m, e] = v.toExponential(1).split("e")
  const sign = e.startsWith("-") ? "-" : "+"
  return `${m}e${sign}${e.replace(/[+-]/, "").padStart(2, "0")}`
}

function Panel({ index }: { index: number }) {
  const samples = TRACES[index]
  const rows = samples.map((v, i) => ({ t: SAMPLE_START + i * SAMPLE_STEP, v }))
  const unit = TICK_VALUES[index] / 10
  const lim = Y_LIMITS[index]
  const isLast = index === TRACES.length - 1
  const top = PLOT_TOP + index * PANEL_H

  const arrivals = [
    { phase: "P", t: P_TIMES[index] },
    { phase: "pP", t: PP_DEPTH_TIMES[index] },
    { phase: "PcP", t: PCP_TIMES[index] },
    ...PP_TIMES[index].map((t) => ({ phase: "PP", t })),
  ]

  // axes get 1px of room each (a zero-size axis is not drawn), margins make up for it
  return (
    <div style={{ position: "absolute", left: 0, top: top - PAD }}>
      <LineChart
        width={1900}
        height={PANEL_H + 2 * PAD}
        data={rows}
        margin={{ top: PAD - 1, right: 1900 - PLOT_RIGHT - 1, bottom: PAD - 1, left: 0 }}
      >
        <XAxis
          xAxisId="b"
          type="number"
          dataKey="t"
          domain={X_DOMAIN}
          allowDataOverflow
          ticks={X_TICKS}
          interval={0}
          height={1}
          tickSize={0}
          tickMargin={0}
          tickLine={false}
          axisLine={AXIS}
          tick={(p: any) => (
            <g>
              <line x1={p.x} x2={p.x} y1={p.y} y2={p.y - TICK_LEN} stroke="#000" strokeWidth={1.1} />
              {isLast && (
                <text x={p.x} y={p.y + 16} textAnchor="middle" fontSize={FONT_SIZE} fontFamily={FONT} fill="#000">
                  {p.payload.value}
                </text>
              )}
            </g>
          )}
        />
        <XAxis
          xAxisId="t"
          orientation="top"
          type="number"
          dataKey="t"
          domain={X_DOMAIN}
          allowDataOverflow
          ticks={X_TICKS}
          interval={0}
          height={1}
          tickSize={0}
          tickMargin={0}
          tickLine={false}
          axisLine={AXIS}
          tick={(p: any) => (
            <line x1={p.x} x2={p.x} y1={p.y} y2={p.y + TICK_LEN} stroke="#000" strokeWidth={1.1} />
          )}
          label={(p: any) =>
            p.viewBox ? (
              <text x={p.viewBox.x + 17.3} y={p.viewBox.y + p.viewBox.height + 12.4} fontSize={FONT_SIZE} fontFamily={FONT} fill="#000">
                {STATIONS[index]}
              </text>
            ) : null
          }
        />
        <YAxis
          yAxisId="l"
          type="number"
          domain={[-lim, lim]}
          allowDataOverflow
          ticks={Y_TICKS}
          interval={0}
          width={PLOT_LEFT}
          tickSize={0}
          tickMargin={0}
          tickLine={false}
          axisLine={AXIS}
          tick={(p: any) => (
            <g>
              <line x1={p.x} x2={p.x + TICK_LEN} y1={p.y} y2={p.y} stroke="#000" strokeWidth={1.1} />
              <text x={p.x - 5} y={p.y} textAnchor="end" dominantBaseline="central" fontSize={FONT_SIZE} fontFamily={FONT} fill="#000">
                {fmtExp(p.payload.value * unit)}
              </text>
            </g>
          )}
        />
        <YAxis
          yAxisId="r"
          orientation="right"
          type="number"
          domain={[-lim, lim]}
          allowDataOverflow
          ticks={Y_TICKS}
          interval={0}
          width={1}
          tickSize={0}
          tickMargin={0}
          tickLine={false}
          axisLine={AXIS}
          tick={(p: any) => (
            <line x1={p.x} x2={p.x - TICK_LEN} y1={p.y} y2={p.y} stroke="#000" strokeWidth={1.1} />
          )}
        />
        {arrivals.map((a, k) => (
          <ReferenceLine
            key={`${a.phase}-${k}`}
            xAxisId="b"
            yAxisId="l"
            x={a.t}
            ifOverflow="hidden"
            stroke={PHASE_COLORS[a.phase]}
            strokeWidth={2}
            strokeDasharray="6.5 3.3"
            label={(p: any) =>
              p.viewBox ? (
                <text
                  x={p.viewBox.x - 4.7}
                  y={p.viewBox.y + p.viewBox.height - 2.7}
                  textAnchor="end"
                  fontSize={FONT_SIZE}
                  fontFamily={FONT}
                  fill={PHASE_COLORS[a.phase]}
                >
                  {a.phase}
                </text>
              ) : null
            }
          />
        ))}
        <Line
          xAxisId="b"
          yAxisId="l"
          dataKey="v"
          type="linear"
          stroke="#1f77b4"
          strokeWidth={1.1}
          dot={false}
          activeDot={false}
          isAnimationActive={false}
        />
      </LineChart>
    </div>
  )
}

export default function App() {
  const text = { fontFamily: FONT, fontSize: FONT_SIZE, color: "#000", whiteSpace: "nowrap" as const }
  return (
    <div style={{ position: "absolute", left: 0, top: 0, width: 1900, height: 1100, background: "#fff", overflow: "hidden" }}>
      <div style={{ ...text, position: "absolute", left: 0, top: 9, width: 1902, textAlign: "center", lineHeight: "16.7px" }}>
        <div>M6.9 central Mid-Atlantic Ridge 2022-09-04 09:42:18.429000</div>
        <div>from the Raspberry Shake Network</div>
        <div>depth: 10.0 km, distance: 5875.0 km.</div>
      </div>
      {TRACES.map((_, i) => (
        <Panel key={i} index={i} />
      ))}
      <div style={{ ...text, position: "absolute", left: 17, top: 550, transform: "translate(-50%, -50%) rotate(-90deg)" }}>
        Velocity [m/s]
      </div>
      <div style={{ ...text, position: "absolute", left: 0, top: 1070, width: 1902, textAlign: "center" }}>
        Time since earthquake [s]
      </div>
      <div style={{ ...text, position: "absolute", left: 19, top: 1070 }}>
        Channel: EHZ, filter: "bandpass", freqmin=1.3, freqmax=4.3, corners=4
      </div>
    </div>
  )
}
